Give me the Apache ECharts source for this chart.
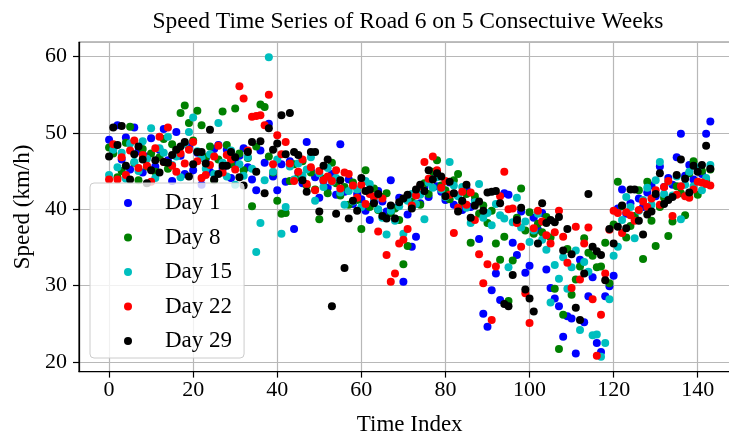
<!DOCTYPE html>
<html>
<head>
<meta charset="utf-8">
<title>Speed Time Series of Road 6</title>
<script src="https://cdn.jsdelivr.net/npm/echarts@6/dist/echarts.min.js"></script>
<style>
  html, body { margin: 0; padding: 0; background: #fff; }
  #chart { width: 729px; height: 435px; }
</style>
</head>
<body>
<div id="chart"></div>
<script>
// Speed (km/h) over time index 0..143, one array per day
const day1 = [
  49.1, 48.0, 51.0, 46.5, 49.4, 45.2, 50.7, 47.6, 44.8, 46.9, 49.3, 45.6,
  47.8, 50.5, 46.4, 43.7, 50.1, 47.0, 44.6, 48.2, 45.1, 47.4, 43.2, 46.6,
  44.9, 47.9, 48.4, 45.3, 47.8, 44.1, 46.2, 47.0, 48.0, 45.5, 43.9, 42.5,
  47.7, 46.1, 51.2, 44.3, 42.5, 45.9, 43.6, 46.3, 37.4, 44.8, 43.4, 48.8,
  45.1, 44.2, 41.5, 43.7, 42.8, 44.6, 41.9, 48.5, 42.3, 43.9, 40.7, 42.0,
  41.3, 39.8, 38.6, 40.9, 42.4, 41.0, 39.7, 43.8, 40.2, 41.5, 30.5, 39.3,
  35.1, 36.4, 40.8, 42.9, 41.6, 44.1, 43.0, 42.3, 41.2, 43.5, 40.6, 41.8,
  39.9, 42.7, 40.3, 41.1, 36.1, 26.3, 24.6, 29.4, 31.6, 28.1, 42.1, 41.9,
  35.6, 34.0, 39.7, 31.7, 32.6, 38.9, 37.3, 39.5, 32.1, 29.7, 28.3, 27.3,
  23.3, 26.0, 25.7, 21.1, 33.4, 25.2, 28.6, 31.1, 22.5, 21.3, 28.6, 29.9,
  31.3, 40.1, 42.6, 39.4, 40.8, 38.9, 41.4, 40.3, 42.2, 43.1, 41.7, 45.6,
  42.9, 44.1, 43.2, 46.8, 49.9, 44.4, 45.8, 43.9, 45.1, 44.6, 49.9, 51.5
];
const day8 = [
  48.1, 47.3, 44.2, 45.0, 48.7, 50.8, 46.1, 43.8, 47.9, 45.6, 47.3, 44.9,
  46.8, 49.2, 45.3, 48.5, 47.8, 52.6, 53.6, 51.3, 49.0, 52.9, 51.0, 46.8,
  48.2, 43.8, 46.5, 52.8, 48.4, 45.9, 53.2, 47.3, 45.1, 46.7, 40.4, 48.2,
  53.7, 53.4, 46.9, 44.8, 41.1, 39.4, 39.5, 43.7, 45.9, 44.2, 46.3, 43.1,
  44.8, 42.6, 38.7, 44.0, 42.1, 46.1, 43.4, 41.8, 42.9, 40.6, 43.5, 41.2,
  37.4, 45.1, 40.3, 42.7, 39.9, 41.6, 42.1, 39.5, 40.1, 38.6, 32.8, 35.2,
  41.0, 42.3, 40.6, 43.4, 42.0, 44.9, 46.4, 43.1, 42.5, 41.3, 43.8, 44.6,
  40.9, 42.0, 35.6, 41.7, 39.4, 40.5, 38.2, 39.8, 35.5, 33.4, 36.4, 28.0,
  33.3, 38.9, 42.7, 37.2, 39.6, 36.8, 38.1, 37.0, 39.0, 36.3, 29.6, 21.7,
  26.2, 34.8, 28.8, 30.8, 32.5, 36.2, 34.3, 33.9, 32.4, 32.5, 35.6, 30.3,
  38.0, 43.6, 40.4, 36.3, 37.8, 39.1, 42.5, 33.5, 43.6, 38.5, 35.2, 40.3,
  41.5, 36.5, 38.4, 43.0, 42.1, 39.2, 44.7, 46.3, 41.9, 45.0, 43.8, 45.2
];
const day15 = [
  44.5, 47.8, 45.5, 47.4, 44.0, 48.6, 46.2, 45.0, 48.9, 46.6, 50.6, 44.1,
  48.0, 47.4, 49.5, 45.8, 46.9, 44.2, 48.6, 50.1, 52.0, 47.6, 46.7, 45.3,
  47.2, 44.6, 51.3, 46.1, 44.3, 47.7, 43.2, 45.9, 44.4, 46.8, 45.3, 34.4,
  38.2, 43.8, 59.9, 44.9, 46.5, 36.8, 40.3, 45.6, 43.9, 46.0, 44.4, 45.2,
  46.8, 41.1, 44.7, 42.9, 45.4, 43.6, 44.1, 42.2, 40.6, 42.4, 41.0, 42.6,
  40.3, 43.7, 43.3, 41.4, 40.0, 38.9, 36.7, 39.8, 38.5, 40.4, 36.8, 41.1,
  42.0, 40.7, 41.9, 38.7, 43.5, 42.8, 44.2, 42.6, 41.6, 46.2, 43.1, 41.7,
  42.9, 40.2, 38.2, 40.9, 43.3, 38.9, 39.5, 37.9, 40.7, 39.2, 38.8, 32.4,
  38.3, 41.5, 37.6, 38.4, 35.7, 37.2, 39.4, 36.0, 34.7, 27.8, 32.7, 30.9,
  33.7, 29.6, 32.4, 34.6, 24.2, 33.1, 31.8, 23.5, 23.6, 20.7, 22.5, 28.2,
  33.9, 35.1, 38.6, 41.6, 40.3, 36.2, 39.8, 41.2, 42.8, 40.6, 43.8, 46.2,
  42.0, 43.6, 41.8, 44.3, 38.7, 43.2, 44.9, 43.0, 45.5, 42.5, 44.1, 45.8
];
const day22 = [
  43.9, 48.5, 43.9, 46.8, 44.5, 47.7, 49.0, 45.4, 47.1, 45.7, 43.6, 48.0,
  49.5, 46.2, 50.7, 45.7, 44.9, 47.3, 46.0, 47.8, 48.8, 46.3, 44.1, 44.5,
  45.8, 46.9, 48.3, 44.8, 47.1, 46.5, 45.2, 56.1, 54.5, 47.7, 52.1, 52.2,
  52.3, 51.0, 55.0, 45.9, 49.7, 47.2, 48.8, 46.0, 43.7, 44.9, 46.5, 43.3,
  45.5, 42.5, 45.0, 43.8, 44.3, 43.7, 45.1, 42.7, 44.8, 44.6, 43.1, 41.5,
  43.2, 40.7, 42.0, 41.6, 37.1, 41.4, 34.0, 30.5, 31.6, 35.5, 36.0, 37.4,
  40.5, 41.8, 43.0, 46.2, 44.0, 46.9, 45.1, 42.8, 43.7, 41.9, 36.9, 40.2,
  42.3, 40.6, 42.2, 38.6, 34.1, 30.3, 32.8, 25.5, 32.5, 41.7, 44.9, 40.0,
  40.1, 38.2, 35.1, 29.0, 25.1, 37.5, 39.8, 38.4, 36.6, 35.5, 37.0, 39.8,
  36.4, 33.0, 29.7, 37.7, 30.8, 35.5, 37.6, 28.2, 20.8, 26.2, 31.6, 37.3,
  39.8, 39.5, 36.9, 39.6, 39.2, 38.5, 39.9, 41.0, 40.3, 41.4, 42.5, 40.6,
  42.9, 43.7, 39.1, 41.9, 43.0, 41.7, 41.5, 42.6, 43.6, 43.5, 43.3, 43.1
];
const day29 = [
  46.9, 50.7, 48.4, 50.9, 45.7, 43.9, 47.2, 48.2, 46.5, 43.4, 45.1, 46.4,
  44.8, 46.2, 46.1, 47.1, 47.8, 48.2, 48.8, 44.3, 45.9, 47.5, 47.5, 46.0,
  50.4, 43.9, 44.6, 45.7, 45.7, 47.5, 46.8, 44.2, 43.1, 47.5, 48.8, 44.9,
  48.9, 42.1, 50.6, 47.8, 48.6, 52.3, 47.2, 52.6, 47.5, 47.1, 43.8, 42.3,
  47.5, 47.5, 39.7, 45.7, 46.5, 27.3, 39.4, 43.8, 32.3, 38.8, 41.1, 39.8,
  44.1, 42.4, 42.6, 40.8, 42.0, 39.1, 38.8, 40.5, 38.8, 40.9, 41.4, 41.9,
  40.1, 42.6, 43.2, 42.4, 45.1, 43.9, 44.7, 44.3, 41.7, 43.6, 42.1, 39.7,
  41.1, 43.2, 38.9, 40.5, 41.0, 39.8, 42.2, 42.3, 42.4, 40.8, 27.6, 27.3,
  31.4, 38.6, 40.2, 29.5, 28.3, 26.6, 35.5, 40.8, 38.2, 38.6, 38.3, 39.0,
  34.6, 37.4, 34.1, 27.1, 25.5, 31.6, 42.0, 35.1, 34.5, 34.0, 30.7, 37.4,
  35.5, 37.7, 40.5, 37.5, 42.6, 42.6, 38.5, 36.7, 39.3, 39.7, 42.0, 44.7,
  40.7, 41.2, 41.6, 44.5, 46.5, 44.0, 42.2, 45.7, 44.9, 45.8, 48.3, 45.3
];

const dayNames = ['Day 1', 'Day 8', 'Day 15', 'Day 22', 'Day 29'];
const dayColors = ['#0000ff', '#008000', '#00bfbf', '#ff0000', '#000000'];
const daySeries = [day1, day8, day15, day22, day29];

const FONT = 'Liberation Serif, Times New Roman, serif';

// pair each speed with its time index
function toPoints(values) {
  return values.map(function (v, i) { return [i, v]; });
}

const chart = echarts.init(document.getElementById('chart'), null, { renderer: 'canvas' });

chart.setOption({
  animation: false,
  backgroundColor: '#ffffff',
  title: {
    text: 'Speed Time Series of Road 6 on 5 Consectuive Weeks',
    left: 408,
    top: 10,
    padding: 0,
    textAlign: 'center',
    textStyle: { fontFamily: FONT, fontSize: 23.5, fontWeight: 'normal', color: '#000' }
  },
  grid: {
    left: 79,
    top: 42.3,
    width: 661.4,
    height: 329.3,
    show: true,
    borderColor: '#000',
    borderWidth: 1.2,
    outerBoundsMode: 'none',
    containLabel: false
  },
  legend: {
    orient: 'vertical',
    left: 90,
    top: 183,
    padding: [8.5, 12, 5.5, 34],
    itemWidth: 8,
    itemHeight: 8,
    itemGap: 11.5,
    icon: 'circle',
    backgroundColor: 'rgba(255,255,255,0.8)',
    borderColor: '#cccccc',
    borderWidth: 1,
    borderRadius: 4,
    textStyle: {
      fontFamily: FONT, fontSize: 23, lineHeight: 23, color: '#000',
      padding: [0, 0, 0, 28]
    },
    data: dayNames
  },
  xAxis: {
    type: 'value',
    min: -7.15,
    max: 150.15,
    minInterval: 20,
    maxInterval: 20,
    name: 'Time Index',
    nameLocation: 'middle',
    nameGap: 42,
    nameTextStyle: { fontFamily: FONT, fontSize: 23, color: '#000' },
    axisLine: { show: true, onZero: false, lineStyle: { color: '#000', width: 1.2 } },
    axisTick: { show: true, inside: false, length: 6, lineStyle: { color: '#000', width: 1.2 } },
    axisLabel: {
      fontFamily: FONT, fontSize: 22, color: '#000', margin: 8,
      showMinLabel: false, showMaxLabel: false
    },
    splitLine: { show: true, lineStyle: { color: '#b8b8b8', width: 1.2 } }
  },
  yAxis: {
    type: 'value',
    min: 18.74,
    max: 61.86,
    minInterval: 10,
    maxInterval: 10,
    name: 'Speed (km/h)',
    nameLocation: 'middle',
    nameGap: 45,
    nameRotate: 90,
    nameTextStyle: { fontFamily: FONT, fontSize: 23, color: '#000' },
    axisLine: { show: true, onZero: false, lineStyle: { color: '#000', width: 1.2 } },
    axisTick: { show: true, inside: false, length: 6, lineStyle: { color: '#000', width: 1.2 } },
    axisLabel: {
      fontFamily: FONT, fontSize: 22, color: '#000', margin: 12,
      showMinLabel: false, showMaxLabel: false
    },
    splitLine: { show: true, lineStyle: { color: '#b8b8b8', width: 1.2 } }
  },
  series: daySeries.map(function (values, k) {
    return {
      name: dayNames[k],
      type: 'scatter',
      symbol: 'circle',
      symbolSize: 8,
      itemStyle: { color: dayColors[k], opacity: 1 },
      emphasis: { disabled: true },
      data: toPoints(values)
    };
  })
});
</script>
</body>
</html>
